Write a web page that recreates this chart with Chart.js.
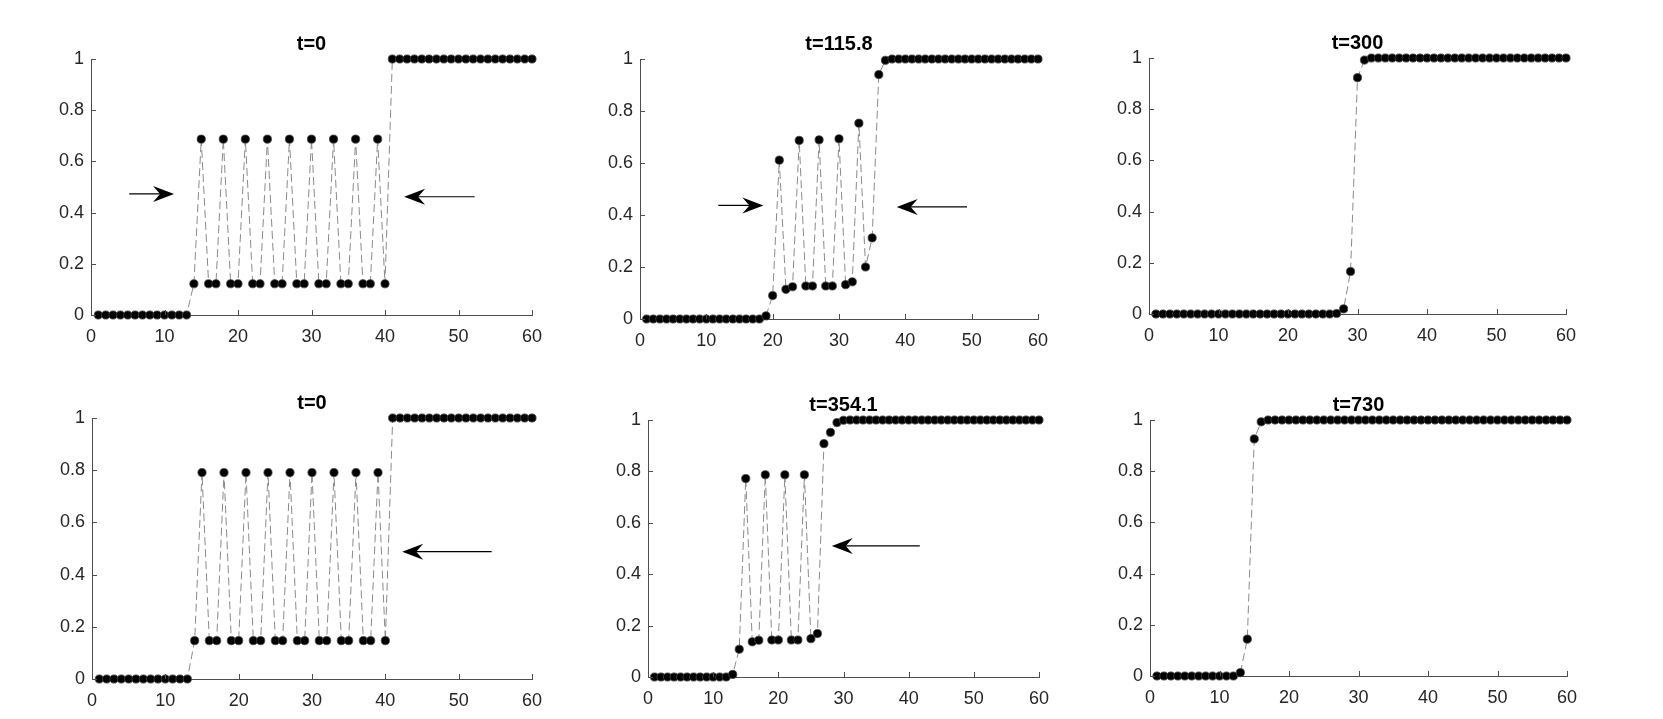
<!DOCTYPE html>
<html><head><meta charset="utf-8">
<script src="https://cdn.jsdelivr.net/npm/chart.js@4.4.1/dist/chart.umd.min.js"></script>
<style>
html,body{margin:0;padding:0;background:#fff;width:1663px;height:719px;overflow:hidden;position:relative}
canvas{position:absolute}
</style></head><body>
<script>
// ---------- data ----------
const positions = [1,2,3,4,5,6,7,8,9,10,11,12,13,14,15,16,17,18,19,20,21,22,23,24,25,26,27,28,29,30,
  31,32,33,34,35,36,37,38,39,40,41,42,43,44,45,46,47,48,49,50,51,52,53,54,55,56,57,58,59,60];

const titles = ['t=0', 't=115.8', 't=300', 't=0', 't=354.1', 't=730'];

const xTickValues = [0, 10, 20, 30, 40, 50, 60];
const yTickValues = [0, 0.2, 0.4, 0.6, 0.8, 1];

const topT0 = [0,0,0,0,0,0,0,0,0,0,0,0,0,
  0.122,0.687,0.122,0.122,0.687,0.122,0.122,0.687,0.122,0.122,0.687,0.122,0.122,0.687,0.122,0.122,
  0.687,0.122,0.122,0.687,0.122,0.122,0.687,0.122,0.122,0.687,0.122,
  1,1,1,1,1,1,1,1,1,1,1,1,1,1,1,1,1,1,1,1];

const topT1158 = [0,0,0,0,0,0,0,0,0,0,0,0,0,0,0,0,0,0,
  0.012,0.09,0.611,0.114,0.124,0.687,0.127,0.127,0.689,0.127,0.127,0.693,0.132,0.143,0.753,0.2,0.312,0.94,0.995,
  1,1,1,1,1,1,1,1,1,1,1,1,1,1,1,1,1,1,1,1,1,1,1];

const topT300 = [0,0,0,0,0,0,0,0,0,0,0,0,0,0,0,0,0,0,0,0,0,0,0,0,0,0,0.002,
  0.02,0.166,0.923,0.992,
  1,1,1,1,1,1,1,1,1,1,1,1,1,1,1,1,1,1,1,1,1,1,1,1,1,1,1,1,1];

const botT0 = [0,0,0,0,0,0,0,0,0,0,0,0,0,
  0.147,0.791,0.147,0.147,0.791,0.147,0.147,0.791,0.147,0.147,0.791,0.147,0.147,0.791,0.147,0.147,
  0.791,0.147,0.147,0.791,0.147,0.147,0.791,0.147,0.147,0.791,0.147,
  1,1,1,1,1,1,1,1,1,1,1,1,1,1,1,1,1,1,1,1];

const botT3541 = [0,0,0,0,0,0,0,0,0,0,0,0,
  0.01,0.108,0.772,0.137,0.143,0.787,0.144,0.144,0.787,0.144,0.144,0.787,0.149,0.169,0.908,0.952,0.99,0.999,
  1,1,1,1,1,1,1,1,1,1,1,1,1,1,1,1,1,1,1,1,1,1,1,1,1,1,1,1,1,1];

const botT730 = [0,0,0,0,0,0,0,0,0,0,0,0,
  0.013,0.144,0.926,0.993,
  1,1,1,1,1,1,1,1,1,1,1,1,1,1,1,1,1,1,1,1,1,1,1,1,1,1,1,1,1,1,1,1,1,1,1,1,1,1,1,1,1,1,1,1];

// annotation arrows in data coordinates: [tailX, tailY, tipX, tipY]
const arrowsTopT0 = [[5.2, 0.473, 11.3, 0.473], [52.2, 0.462, 42.6, 0.462]];
const arrowsTopT1158 = [[11.8, 0.437, 18.6, 0.437], [49.3, 0.431, 38.7, 0.431]];
const arrowsBotT0 = [[54.5, 0.488, 42.3, 0.488]];
const arrowsBotT3541 = [[41.7, 0.51, 28.2, 0.51]];

const panelSeries = [topT0, topT1158, topT300, botT0, botT3541, botT730];
const panelArrows = [arrowsTopT0, arrowsTopT1158, [], arrowsBotT0, arrowsBotT3541, []];

// ---------- layout (plot-area frames in page pixels) ----------
const frames = [
  {L: 91,   T: 59,  W: 441, H: 256},
  {L: 640,  T: 59,  W: 398, H: 260},
  {L: 1149, T: 58,  W: 417, H: 256},
  {L: 92,   T: 418, W: 440, H: 261},
  {L: 648,  T: 420, W: 391, H: 257},
  {L: 1150, T: 420, W: 417, H: 256}
];
const PAD_L = 60, PAD_R = 60, PAD_T = 50, PAD_B = 40;

const FONT = "'Liberation Sans', Arial, Helvetica, sans-serif";
const axisColor = '#4d4d4d';
const labelColor = '#262626';

const inwardTicks = {
  id: 'inwardTicks',
  afterDraw(chart) {
    const {ctx, chartArea: {left, bottom}, scales: {x, y}} = chart;
    ctx.save();
    ctx.strokeStyle = axisColor;
    ctx.lineWidth = 1;
    ctx.beginPath();
    xTickValues.forEach(v => {
      const p = Math.round(x.getPixelForValue(v)) + 0.5;
      ctx.moveTo(p, bottom); ctx.lineTo(p, bottom - 5);
    });
    yTickValues.forEach(v => {
      const p = Math.round(y.getPixelForValue(v)) + 0.5;
      ctx.moveTo(left, p); ctx.lineTo(left + 5, p);
    });
    ctx.stroke();
    ctx.restore();
  }
};

const arrowNotes = {
  id: 'arrowNotes',
  afterDraw(chart, args, opts) {
    const {ctx, scales: {x, y}} = chart;
    (opts.arrows || []).forEach(([x1, y1, x2, y2]) => {
      const ax = x.getPixelForValue(x1), ay = y.getPixelForValue(y1);
      const bx = x.getPixelForValue(x2), by = y.getPixelForValue(y2);
      const ang = Math.atan2(by - ay, bx - ax);
      const len = Math.hypot(bx - ax, by - ay);
      ctx.save();
      ctx.translate(bx, by);
      ctx.rotate(ang);
      ctx.strokeStyle = '#000';
      ctx.lineWidth = 1.2;
      ctx.beginPath(); ctx.moveTo(-len, 0); ctx.lineTo(-12, 0); ctx.stroke();
      ctx.fillStyle = '#000';
      ctx.beginPath();
      ctx.moveTo(0, 0); ctx.lineTo(-21, -8); ctx.lineTo(-14, 0); ctx.lineTo(-21, 8);
      ctx.closePath(); ctx.fill();
      ctx.restore();
    });
  }
};

frames.forEach((f, i) => {
  const c = document.createElement('canvas');
  const w = f.W + PAD_L + PAD_R, h = f.H + PAD_T + PAD_B;
  c.width = w; c.height = h;
  c.style.left = (f.L - PAD_L) + 'px';
  c.style.top = (f.T - PAD_T) + 'px';
  c.style.width = w + 'px'; c.style.height = h + 'px';
  document.body.appendChild(c);

  const vals = panelSeries[i];
  new Chart(c, {
    type: 'line',
    data: {
      datasets: [{
        data: positions.map((p, k) => ({x: p, y: vals[k]})),
        borderColor: '#8a8a8a',
        borderWidth: 1,
        borderDash: [8, 4],
        tension: 0,
        fill: false,
        pointRadius: 4.1,
        pointBackgroundColor: '#000',
        pointBorderColor: '#444',
        pointBorderWidth: 0.8,
        clip: false
      }]
    },
    options: {
      responsive: false,
      animation: false,
      events: [],
      devicePixelRatio: 1,
      layout: {padding: {left: 0, right: PAD_R, top: 0, bottom: 0}},
      plugins: {
        legend: {display: false},
        tooltip: {enabled: false},
        title: {
          display: true,
          fullSize: false,
          align: 'center',
          text: titles[i],
          color: '#000',
          font: {family: FONT, size: 20, weight: 'bold'},
          padding: {top: 23, bottom: 3}
        },
        arrowNotes: {arrows: panelArrows[i]}
      },
      scales: {
        x: {
          type: 'linear', min: 0, max: 60,
          afterFit(s) { s.height = PAD_B; },
          afterBuildTicks(s) { s.ticks = xTickValues.map(v => ({value: v})); },
          grid: {drawOnChartArea: false, drawTicks: false},
          border: {display: true, color: axisColor, width: 1},
          ticks: {padding: 11, color: labelColor, font: {family: FONT, size: 18}, maxRotation: 0, autoSkip: false,
                  callback: v => String(v)}
        },
        y: {
          type: 'linear', min: 0, max: 1,
          afterFit(s) { s.width = PAD_L; },
          afterBuildTicks(s) { s.ticks = yTickValues.map(v => ({value: v})); },
          grid: {drawOnChartArea: false, drawTicks: false},
          border: {display: true, color: axisColor, width: 1},
          ticks: {padding: 7, color: labelColor, font: {family: FONT, size: 18}, autoSkip: false,
                  callback: v => String(Math.round(v * 10) / 10)}
        }
      }
    },
    plugins: [inwardTicks, arrowNotes]
  });
});
</script>
</body></html>
